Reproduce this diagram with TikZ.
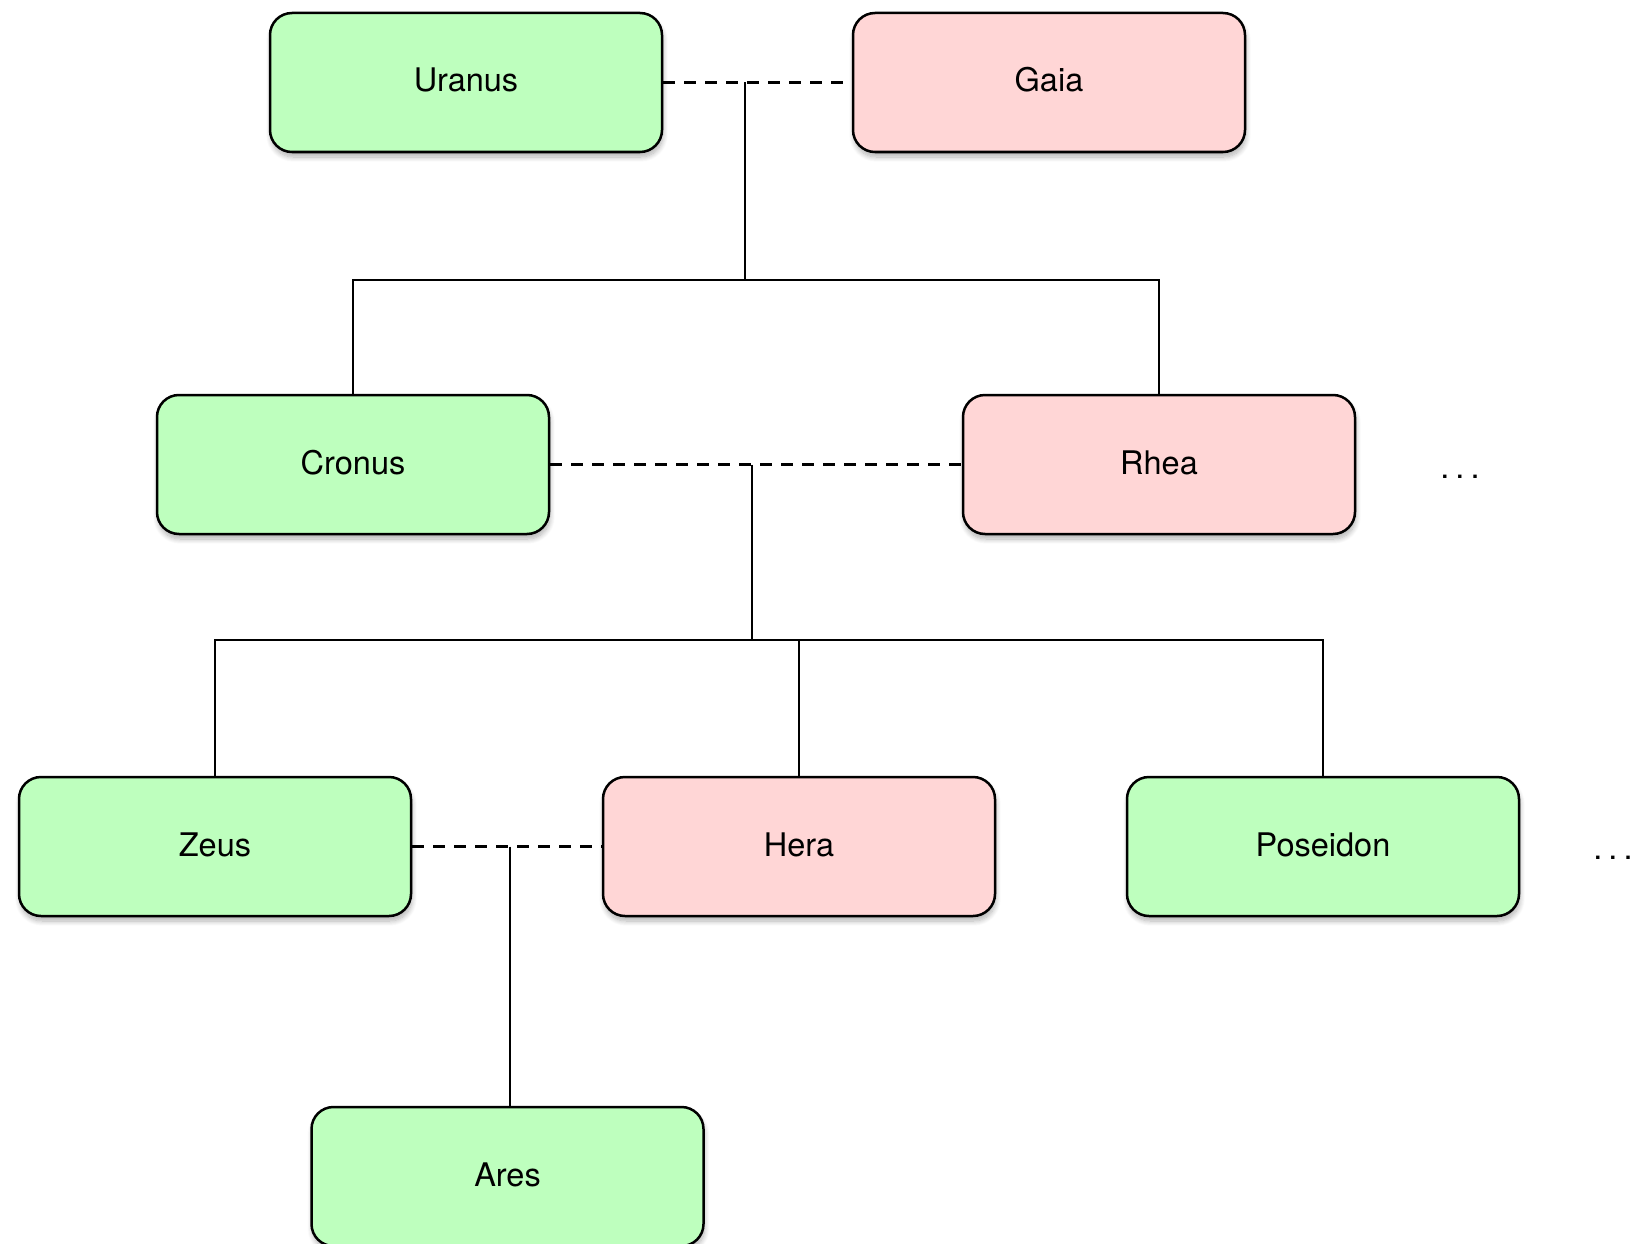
\documentclass[tikz,border=0pt]{standalone}
\usepackage{fontspec}
\setmainfont{TeX Gyre Heros}
\usetikzlibrary{shadows.blur}
\definecolor{malefill}{RGB}{190,255,190}
\definecolor{femalefill}{RGB}{255,214,214}
\tikzset{
  person/.style={draw=black, line width=2.5pt, rounded corners=22pt,
    minimum width=392pt, minimum height=139pt, inner sep=0pt,
    text height=24pt, text depth=5pt,
    font=\fontsize{32.5}{39}\selectfont,
    blur shadow={shadow xshift=1pt, shadow yshift=-5pt, shadow blur radius=5pt,
      shadow blur steps=10, shadow opacity=30}},
  male/.style={person, fill=malefill},
  female/.style={person, fill=femalefill},
  marriage/.style={line width=2.2pt, dash pattern=on 12pt off 9pt},
  descent/.style={line width=2.2pt},
  more/.style={font=\fontsize{32.5}{39}\selectfont, inner sep=0pt, anchor=base}
}
\begin{document}
\begin{tikzpicture}[x=1pt, y=-1pt]
  \useasboundingbox (0,0) rectangle (1646,1244);
  \clip (0,0) rectangle (1646,1244);

  % generation 1
  \node[male]   (uranus)   at (466,82.5)    {Uranus};
  \node[female] (gaia)     at (1049,82.5)   {Gaia};
  % generation 2
  \node[male]   (cronus)   at (353,464.5)   {Cronus};
  \node[female] (rhea)     at (1159,464.5)  {Rhea};
  \node[more]   (moreA)    at (1460,478)    {.\kern6pt.\kern6pt.};
  % generation 3
  \node[male]   (zeus)     at (215,846.5)   {Zeus};
  \node[female] (hera)     at (799,846.5)   {Hera};
  \node[male]   (poseidon) at (1323,846.5)  {Poseidon};
  \node[more]   (moreB)    at (1613,859)    {.\kern6pt.\kern6pt.};
  % generation 4
  \node[male]   (ares)     at (507.5,1176.5) {Ares};

  % couples and their lines of descent
  \coordinate (jA) at (745,82.5);
  \coordinate (busA) at (745,280);
  \draw[marriage] (uranus.east) -- (gaia.west);
  \draw[descent] (jA) -- (busA);
  \draw[descent] (cronus.north) |- (busA) -| (rhea.north);

  \coordinate (jB) at (752,464.5);
  \coordinate (busB) at (752,640);
  \draw[marriage] (cronus.east) -- (rhea.west);
  \draw[descent] (jB) -- (busB);
  \draw[descent] (zeus.north) |- (busB) -| (poseidon.north);
  \draw[descent] (hera.north) -- (hera.north |- busB);

  \coordinate (jC) at (510,846.5);
  \draw[marriage] (zeus.east) -- (hera.west);
  \draw[descent] (jC) -- (jC |- ares.north);
\end{tikzpicture}
\end{document}
